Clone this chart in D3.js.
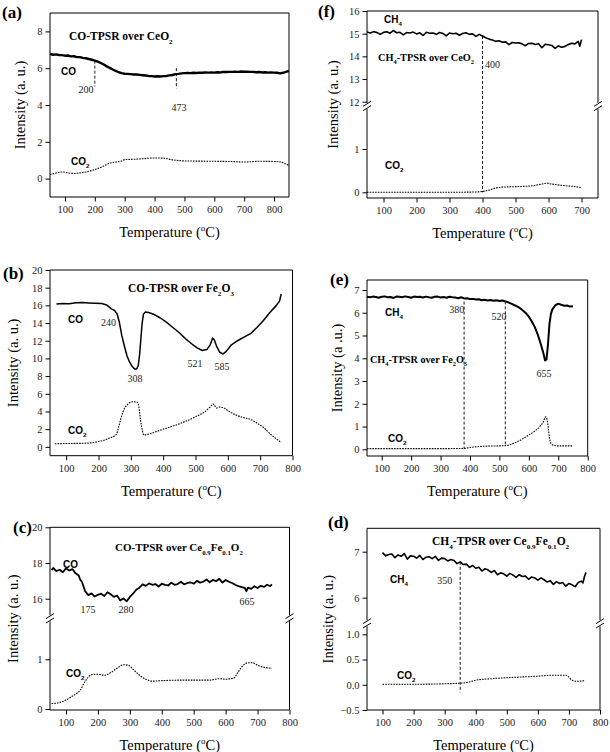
<!DOCTYPE html>
<html><head><meta charset="utf-8">
<script src="https://cdn.jsdelivr.net/npm/d3@7"></script>
<style>body{margin:0;background:#fff} svg{display:block}</style>
</head><body>
<svg id="chart" width="610" height="752"></svg>
<script>
// ---------------- DATA (temperature °C, intensity a.u.) ----------------
const xTicks800 = [100,200,300,400,500,600,700,800];
const xTicks700 = [100,200,300,400,500,600,700];

// (a) CO-TPSR over CeO2
const aCO = [[50,6.78],[60,6.73],[70,6.75],[80,6.72],[90,6.71],[100,6.68],[110,6.69],[120,6.64],[130,6.65],[140,6.60],[150,6.60],[160,6.56],[170,6.54],[180,6.50],[190,6.46],[200,6.41],[210,6.36],[220,6.28],[230,6.20],[240,6.10],[250,6.02],[260,5.93],[270,5.85],[280,5.78],[290,5.73],[300,5.70],[310,5.69],[320,5.68],[330,5.66],[340,5.66],[350,5.64],[360,5.62],[370,5.60],[380,5.58],[390,5.57],[400,5.55],[410,5.56],[420,5.55],[430,5.57],[440,5.58],[450,5.61],[460,5.63],[470,5.68],[480,5.69],[490,5.72],[500,5.73],[510,5.74],[520,5.73],[530,5.75],[540,5.74],[550,5.76],[560,5.75],[570,5.77],[580,5.76],[590,5.77],[600,5.76],[610,5.78],[620,5.77],[630,5.79],[640,5.79],[650,5.80],[660,5.80],[670,5.81],[680,5.80],[690,5.82],[700,5.81],[710,5.81],[720,5.80],[730,5.80],[740,5.78],[750,5.79],[760,5.77],[770,5.78],[780,5.76],[790,5.77],[800,5.76],[810,5.75],[820,5.72],[830,5.75],[840,5.80],[850,5.86]];
const aCO2 = [[50,0.22],[70,0.30],[90,0.36],[110,0.31],[130,0.28],[150,0.31],[170,0.36],[200,0.49],[230,0.68],[250,0.84],[270,0.90],[290,0.96],[300,1.03],[330,1.05],[360,1.08],[400,1.12],[430,1.11],[460,1.02],[480,0.98],[500,0.96],[550,0.95],[600,0.94],[650,0.93],[700,0.90],[750,0.94],[800,0.93],[820,0.91],[835,0.82],[850,0.70]];
const aMarks = [[200,6.41,5.0],[473,6.0,4.9]];
const aYTicks = [0,2,4,6,8];

// (f) CH4-TPSR over CeO2
const fCH4 = [[50,15.07],[60,15.03],[70,15.09],[80,15.05],[90,14.97],[100,15.06],[110,15.08],[120,15.02],[130,15.14],[140,15.04],[150,15.06],[160,14.95],[170,15.05],[180,15.03],[190,15.07],[200,14.99],[210,15.04],[220,14.92],[230,15.06],[240,15.02],[250,15.03],[260,14.97],[270,15.05],[280,15.01],[290,14.90],[300,15.03],[310,15.00],[320,15.02],[330,14.93],[340,15.01],[350,15.04],[360,14.97],[370,14.99],[380,14.88],[390,14.97],[400,14.90],[410,14.82],[420,14.76],[430,14.72],[440,14.66],[450,14.69],[460,14.62],[470,14.64],[480,14.52],[490,14.61],[500,14.59],[510,14.60],[520,14.55],[530,14.47],[540,14.57],[550,14.58],[560,14.52],[570,14.56],[580,14.38],[590,14.53],[600,14.51],[610,14.48],[620,14.35],[630,14.46],[640,14.40],[650,14.44],[660,14.52],[670,14.58],[680,14.55],[690,14.66],[695,14.45],[700,14.74]];
const fCO2 = [[50,0.0],[100,0.0],[200,0.0],[300,0.0],[390,0.01],[400,0.02],[420,0.05],[440,0.10],[460,0.12],[500,0.13],[550,0.15],[580,0.19],[595,0.21],[610,0.19],[640,0.16],[670,0.14],[700,0.11]];
const fMarks = [[400,14.9,0.0]];
const fYTicksUpper = [12,13,14,15,16];
const fYTicksLower = [0,1];

// (b) CO-TPSR over Fe2O3
const bCO = [[70,16.15],[90,16.2],[110,16.18],[130,16.3],[150,16.32],[170,16.28],[190,16.25],[210,16.22],[225,16.05],[240,15.6],[250,15.4],[258,15.0],[265,14.0],[272,12.6],[280,11.4],[288,10.3],[296,9.6],[304,9.1],[312,8.8],[318,8.8],[323,9.2],[327,10.4],[331,12.2],[335,14.0],[339,15.0],[345,15.25],[355,15.2],[370,15.0],[390,14.6],[410,14.1],[430,13.5],[450,12.9],[470,12.2],[490,11.6],[505,11.2],[521,10.9],[535,11.0],[545,11.5],[553,12.3],[558,12.1],[565,11.4],[575,10.7],[585,10.5],[595,10.8],[610,11.5],[630,12.0],[650,12.4],[670,12.8],[690,13.5],[710,14.3],[730,15.2],[750,16.0],[760,16.5],[765,17.3]];
const bCO2 = [[65,0.35],[100,0.38],[150,0.4],[200,0.6],[235,1.0],[255,1.4],[262,2.2],[270,3.3],[280,4.3],[290,4.8],[300,5.05],[310,5.1],[320,5.05],[325,4.5],[330,3.0],[336,1.8],[340,1.35],[360,1.5],[400,2.0],[450,2.6],[500,3.4],[530,4.0],[545,4.5],[555,4.85],[565,4.4],[575,4.5],[585,4.45],[600,4.1],[625,3.6],[650,3.3],[670,3.1],[690,2.7],[710,2.2],[730,1.5],[750,0.9],[765,0.5]];
const bYTicks = [0,2,4,6,8,10,12,14,16,18,20];

// (e) CH4-TPSR over Fe2O3
const eCH4 = [[50,6.70],[60,6.68],[70,6.71],[80,6.69],[90,6.66],[100,6.70],[110,6.72],[120,6.68],[130,6.69],[140,6.65],[150,6.71],[160,6.70],[170,6.68],[180,6.72],[190,6.69],[200,6.66],[210,6.71],[220,6.69],[230,6.70],[240,6.67],[250,6.71],[260,6.68],[270,6.66],[280,6.70],[290,6.71],[300,6.67],[310,6.69],[320,6.66],[330,6.70],[340,6.68],[350,6.67],[360,6.64],[370,6.68],[380,6.63],[390,6.64],[400,6.60],[410,6.61],[420,6.58],[430,6.59],[440,6.55],[450,6.57],[460,6.54],[470,6.56],[480,6.53],[490,6.55],[500,6.52],[510,6.54],[520,6.50],[530,6.46],[540,6.40],[550,6.34],[560,6.28],[570,6.20],[580,6.10],[590,5.98],[600,5.83],[610,5.62],[620,5.38],[630,5.05],[640,4.65],[650,4.20],[655,3.90],[660,3.95],[665,4.6],[670,5.5],[675,5.95],[680,6.15],[690,6.33],[700,6.40],[710,6.35],[720,6.31],[730,6.32],[740,6.27],[750,6.29]];
const eCO2 = [[50,0.03],[100,0.03],[200,0.03],[300,0.03],[380,0.04],[400,0.08],[430,0.12],[460,0.14],[500,0.15],[520,0.16],[540,0.22],[560,0.33],[580,0.47],[600,0.63],[620,0.80],[640,1.04],[650,1.22],[657,1.43],[662,1.30],[666,0.95],[670,0.50],[676,0.25],[685,0.17],[700,0.15],[750,0.15]];
const eMarks = [[380,6.49,0.03],[520,6.5,0.16]];
const eYTicks = [0,1,2,3,4,5,6,7];

// (c) CO-TPSR over Ce0.9Fe0.1O2
const cCO = [[55,17.6],[60,17.72],[70,17.55],[80,17.62],[90,17.48],[100,17.7],[110,17.58],[120,17.66],[130,17.42],[140,17.3],[145,17.05],[150,16.95],[160,16.42],[170,16.2],[180,16.3],[190,16.12],[200,16.22],[210,16.28],[220,16.15],[230,16.36],[240,16.25],[250,16.1],[260,16.18],[270,15.9],[280,16.02],[290,15.85],[300,16.1],[310,16.28],[320,16.5],[330,16.62],[340,16.8],[350,16.72],[360,16.86],[370,16.78],[380,16.82],[390,16.68],[400,16.84],[410,16.78],[420,16.74],[430,16.9],[440,16.78],[450,16.82],[460,16.95],[470,16.8],[480,16.88],[490,16.92],[500,16.84],[510,17.0],[520,16.9],[530,16.95],[540,17.08],[550,16.92],[560,17.05],[570,16.98],[580,17.12],[590,16.9],[600,17.05],[610,16.95],[620,16.88],[630,16.78],[640,16.7],[650,16.65],[660,16.6],[665,16.42],[670,16.62],[680,16.55],[690,16.7],[700,16.6],[710,16.72],[720,16.66],[730,16.78],[740,16.7],[745,16.8]];
const cCO2 = [[55,0.11],[80,0.13],[100,0.18],[120,0.26],[135,0.32],[145,0.38],[155,0.5],[165,0.6],[180,0.69],[200,0.70],[220,0.68],[240,0.73],[260,0.82],[280,0.89],[295,0.88],[310,0.8],[330,0.68],[350,0.6],[370,0.56],[400,0.57],[450,0.58],[500,0.58],[550,0.58],[580,0.61],[600,0.6],[625,0.62],[640,0.75],[655,0.88],[670,0.93],[685,0.93],[700,0.88],[720,0.84],[745,0.82]];
const cYTicksUpper = [16,18,20];
const cYTicksLower = [0,1];

// (d) CH4-TPSR over Ce0.9Fe0.1O2
const dCH4 = [[100,6.98],[110,6.91],[120,6.94],[130,6.95],[140,6.87],[150,6.93],[160,6.90],[170,6.96],[180,6.84],[190,6.91],[200,6.90],[210,6.86],[220,6.92],[230,6.83],[240,6.88],[250,6.89],[260,6.85],[270,6.90],[280,6.81],[290,6.86],[300,6.85],[310,6.80],[320,6.83],[330,6.81],[340,6.74],[350,6.78],[360,6.72],[370,6.73],[380,6.66],[390,6.70],[400,6.64],[410,6.66],[420,6.58],[430,6.63],[440,6.60],[450,6.55],[460,6.59],[470,6.50],[480,6.54],[490,6.52],[500,6.47],[510,6.53],[520,6.49],[530,6.44],[540,6.50],[550,6.46],[560,6.47],[570,6.40],[580,6.45],[590,6.43],[600,6.38],[610,6.43],[620,6.39],[630,6.34],[640,6.37],[650,6.29],[660,6.35],[670,6.31],[680,6.33],[690,6.25],[700,6.31],[710,6.28],[720,6.24],[730,6.33],[740,6.36],[745,6.32],[750,6.46],[755,6.55]];
const dCO2 = [[100,0.01],[200,0.01],[300,0.02],[350,0.03],[375,0.05],[400,0.09],[450,0.12],[500,0.14],[600,0.17],[650,0.19],[690,0.19],[700,0.15],[710,0.09],[725,0.07],[750,0.08]];
const dMarks = [[350,6.78,-0.15]];
const dYTicksUpper = [6,7];
const dYTicksLower = [-0.5,0.0,0.5,1.0];

// ---------------- DRAWING ----------------
const SERIF = '"Liberation Serif","Times New Roman",serif';
const SANS = '"Liberation Sans",Arial,sans-serif';
const svg = d3.select('#chart');
svg.append('rect').attr('width',610).attr('height',752).attr('fill','#fff');

function rich(sel, parts, size) {
  let cur = 0;
  parts.forEach(p => {
    const [t, k] = Array.isArray(p) ? p : [p, null];
    const target = k === 'sub' ? size*0.32 : (k === 'sup' ? -size*0.42 : 0);
    const ts = sel.append('tspan').text(t);
    if (target - cur !== 0) ts.attr('dy', target - cur);
    if (k) ts.attr('font-size', size*0.62);
    cur = target;
  });
}
function txt(g, x, y, parts, opt) {
  const t = g.append('text').attr('x', x).attr('y', y)
    .attr('font-family', opt.family || SERIF)
    .attr('font-size', opt.size)
    .attr('font-weight', opt.bold ? 'bold' : 'normal')
    .attr('text-anchor', opt.anchor || 'start')
    .attr('fill', opt.fill || '#000');
  rich(t, parts, opt.size);
  return t;
}

function drawPanel(p) {
  const g = svg.append('g');
  const x = d3.scaleLinear().domain(p.xDomain).range([p.left, p.right]);
  const yU = d3.scaleLinear().domain(p.upper.d).range(p.upper.r);
  const yL = p.lower ? d3.scaleLinear().domain(p.lower.d).range(p.lower.r) : yU;
  const brk = p.brk;
  const segU = brk ? [p.top, brk - 3] : [p.top, p.bottom];
  const segL = brk ? [brk + 3, p.bottom] : [p.top, p.bottom];

  // x axis
  const xMinor = d3.range(p.xDomain[0], p.xDomain[1] + 1, 50).filter(v => v % 100 !== 0);
  const gx = g.append('g').attr('transform', `translate(0,${p.bottom})`);
  gx.call(d3.axisBottom(x).tickValues(xMinor).tickSize(2.5).tickFormat(''));
  gx.call(d3.axisBottom(x).tickValues(p.xTicks).tickSize(4.5).tickPadding(4).tickFormat(d3.format('d')));
  gx.selectAll('.domain').remove();
  gx.selectAll('line').attr('stroke', '#000').attr('stroke-width', 1);
  gx.selectAll('text').attr('font-family', SERIF).attr('font-size', 10.5).attr('fill', '#222').attr('dy', '0.72em');

  // y axes
  function yAxis(scale, majors, minors, seg, fmt) {
    const inSeg = v => { const yy = scale(v); return yy >= seg[0] - 0.5 && yy <= seg[1] + 0.5; };
    const gy = g.append('g').attr('transform', `translate(${p.left},0)`);
    gy.call(d3.axisLeft(scale).tickValues(minors.filter(inSeg)).tickSize(2.5).tickFormat(''));
    gy.call(d3.axisLeft(scale).tickValues(majors.filter(inSeg)).tickSize(4.5).tickPadding(3).tickFormat(fmt));
    gy.selectAll('.domain').remove();
    gy.selectAll('line').attr('stroke', '#000').attr('stroke-width', 1);
    gy.selectAll('text').attr('font-family', SERIF).attr('font-size', 10.5).attr('fill', '#222');
  }
  yAxis(yU, p.yTicksU, p.yMinorU, segU, p.fmtU || d3.format('d'));
  if (brk) yAxis(yL, p.yTicksL, p.yMinorL, segL, p.fmtL || d3.format('d'));

  // frame
  const fr = g.append('g').attr('stroke', '#000').attr('stroke-width', 1).attr('fill', 'none');
  fr.append('line').attr('x1', p.left).attr('x2', p.right).attr('y1', p.top).attr('y2', p.top);
  fr.append('line').attr('x1', p.left).attr('x2', p.right).attr('y1', p.bottom).attr('y2', p.bottom);
  [p.left, p.right].forEach(xx => {
    fr.append('line').attr('x1', xx).attr('x2', xx).attr('y1', segU[0]).attr('y2', segU[1]);
    if (brk) {
      fr.append('line').attr('x1', xx).attr('x2', xx).attr('y1', segL[0]).attr('y2', segL[1]);
      [-2.2, 2.2].forEach(o => {
        fr.append('line').attr('x1', xx - 4).attr('x2', xx + 4)
          .attr('y1', brk + o + 2.5).attr('y2', brk + o - 2.5);
      });
    }
  });

  // vertical dashed markers
  p.marks.forEach(([t, v1, v2]) => {
    g.append('line').attr('x1', x(t)).attr('x2', x(t))
      .attr('y1', yU(v1)).attr('y2', yL(v2))
      .attr('stroke', '#000').attr('stroke-width', 0.9).attr('stroke-dasharray', '3,2');
  });

  // series
  const lineU = d3.line().x(d => x(d[0])).y(d => yU(d[1]));
  const lineL = d3.line().x(d => x(d[0])).y(d => yL(d[1])).curve(d3.curveMonotoneX);
  g.append('path').datum(p.lower2).attr('d', lineL)
    .attr('fill', 'none').attr('stroke', '#000').attr('stroke-width', 1.1)
    .attr('stroke-dasharray', '1.6,1.1');
  g.append('path').datum(p.upper2).attr('d', lineU)
    .attr('fill', 'none').attr('stroke', '#000').attr('stroke-width', p.lw)
    .attr('stroke-linejoin', 'round');

  // texts
  txt(g, p.letter[1], p.letter[2], [p.letter[0]], { size: 17, bold: true });
  txt(g, p.title[1], p.title[2], p.title[0], { size: p.title[3], bold: true });
  p.labels.forEach(l => txt(g, l[1], l[2], l[0], { size: 10, bold: true, family: SANS }));
  p.nums.forEach(n => txt(g, n[1], n[2], [n[0]], { size: 10, anchor: n[3] || 'middle', fill: '#222' }));

  // axis titles
  txt(g, (p.left + p.right) / 2, p.bottom + 40, ['Temperature (', ['o', 'sup'], 'C)'], { size: 14.5, anchor: 'middle' });
  const midY = (p.top + p.bottom) / 2;
  g.append('text').attr('transform', `translate(${p.ytx},${midY}) rotate(-90)`)
    .attr('text-anchor', 'middle').attr('dy', '0.35em')
    .attr('font-family', SERIF).attr('font-size', 14.5).text(p.ytitle);
}

const half = v => d3.range(v[0], v[1] + 0.001, v[2]);

const panels = [
  { left: 50, right: 289, top: 13, bottom: 197, xDomain: [50, 850], xTicks: xTicks800,
    upper: { d: [-1, 9], r: [197, 13] }, yTicksU: aYTicks, yMinorU: [-1, 1, 3, 5, 7, 9],
    upper2: aCO, lower2: aCO2, lw: 2.4, marks: aMarks,
    letter: ['(a)', 2, 18], title: [['CO-TPSR over CeO', ['2', 'sub']], 69, 40, 11.5],
    labels: [[['CO'], 61, 75], [['CO', ['2', 'sub']], 71, 165]],
    nums: [['200', 86, 93], ['473', 179, 111]],
    ytx: 20, ytitle: 'Intensity (a. u.)' },
  { left: 367, right: 598, top: 11, bottom: 198, xDomain: [50, 750], xTicks: xTicks700,
    upper: { d: [12, 16], r: [101.7, 11] }, lower: { d: [0, 1], r: [192.3, 149] }, brk: 106,
    yTicksU: fYTicksUpper, yMinorU: half([12.5, 15.5, 1]), yTicksL: fYTicksLower, yMinorL: [0.5, 1.5],
    upper2: fCH4, lower2: fCO2, lw: 1.6, marks: fMarks,
    letter: ['(f)', 318, 17], title: [['CH', ['4', 'sub'], '-TPSR over CeO', ['2', 'sub']], 378, 61, 10.3],
    labels: [[['CH', ['4', 'sub']], 384, 23], [['CO', ['2', 'sub']], 385, 169]],
    nums: [['400', 485, 68, 'start']],
    ytx: 333, ytitle: 'Intensity (a. u.)' },
  { left: 50, right: 292.5, top: 270, bottom: 455.7, xDomain: [50, 800], xTicks: xTicks800,
    upper: { d: [-1, 20], r: [455.7, 270] }, yTicksU: bYTicks, yMinorU: half([-1, 19, 2]),
    upper2: bCO, lower2: bCO2, lw: 1.5, marks: [],
    letter: ['(b)', 3, 279], title: [['CO-TPSR over Fe', ['2', 'sub'], 'O', ['3', 'sub']], 128, 292, 11.5],
    labels: [[['CO'], 68, 323], [['CO', ['2', 'sub']], 68, 434]],
    nums: [['240', 108.5, 326], ['308', 135, 382], ['521', 195, 367], ['585', 222, 370]],
    ytx: 13, ytitle: 'Intensity (a. u.)' },
  { left: 367, right: 587.7, top: 280, bottom: 456, xDomain: [50, 800], xTicks: xTicks800,
    upper: { d: [0, 7], r: [449.3, 290] }, yTicksU: eYTicks, yMinorU: half([0.5, 7, 1]),
    upper2: eCH4, lower2: eCO2, lw: 2.0, marks: eMarks,
    letter: ['(e)', 330, 285], title: [['CH', ['4', 'sub'], '-TPSR over Fe', ['2', 'sub'], 'O', ['3', 'sub']], 370, 363, 10.2],
    labels: [[['CH', ['4', 'sub']], 385, 316], [['CO', ['2', 'sub']], 388, 442]],
    nums: [['380', 456.7, 313], ['520', 499, 320], ['655', 544, 377]],
    ytx: 337, ytitle: 'Intensity (a .u.)' },
  { left: 50, right: 289.5, top: 527.3, bottom: 710, xDomain: [50, 800], xTicks: xTicks800,
    upper: { d: [16, 20], r: [598.7, 527.3] }, lower: { d: [0, 1], r: [709, 659.3] }, brk: 618.3,
    yTicksU: cYTicksUpper, yMinorU: [15, 17, 19], yTicksL: cYTicksLower, yMinorL: [0.5, 1.5],
    upper2: cCO, lower2: cCO2, lw: 1.8, marks: [],
    letter: ['(c)', 13, 533], title: [['CO-TPSR over Ce', ['0.9', 'sub'], 'Fe', ['0.1', 'sub'], 'O', ['2', 'sub']], 115, 551, 11],
    labels: [[['CO'], 63, 568], [['CO', ['2', 'sub']], 66, 677]],
    nums: [['175', 88, 613], ['280', 126, 613], ['665', 247, 605]],
    ytx: 13, ytitle: 'Intensity (a. u.)' },
  { left: 367, right: 600, top: 528.3, bottom: 710, xDomain: [50, 800], xTicks: xTicks800,
    upper: { d: [6, 7], r: [597.7, 551.7] }, lower: { d: [-0.5, 1.0], r: [710, 634.3] }, brk: 623.3,
    yTicksU: dYTicksUpper, yMinorU: [5.5, 6.5, 7.5], yTicksL: dYTicksLower, yMinorL: [-0.25, 0.25, 0.75],
    fmtL: d3.format('.1f'),
    upper2: dCH4, lower2: dCO2, lw: 1.6, marks: dMarks,
    letter: ['(d)', 328, 528], title: [['CH', ['4', 'sub'], '-TPSR over Ce', ['0.9', 'sub'], 'Fe', ['0.1', 'sub'], 'O', ['2', 'sub']], 432, 545, 11.5],
    labels: [[['CH', ['4', 'sub']], 390, 583], [['CO', ['2', 'sub']], 397, 679]],
    nums: [['350', 444.7, 584]],
    ytx: 328, ytitle: 'Intensity (a. u.)' }
];
panels.forEach(drawPanel);
</script>
</body></html>
